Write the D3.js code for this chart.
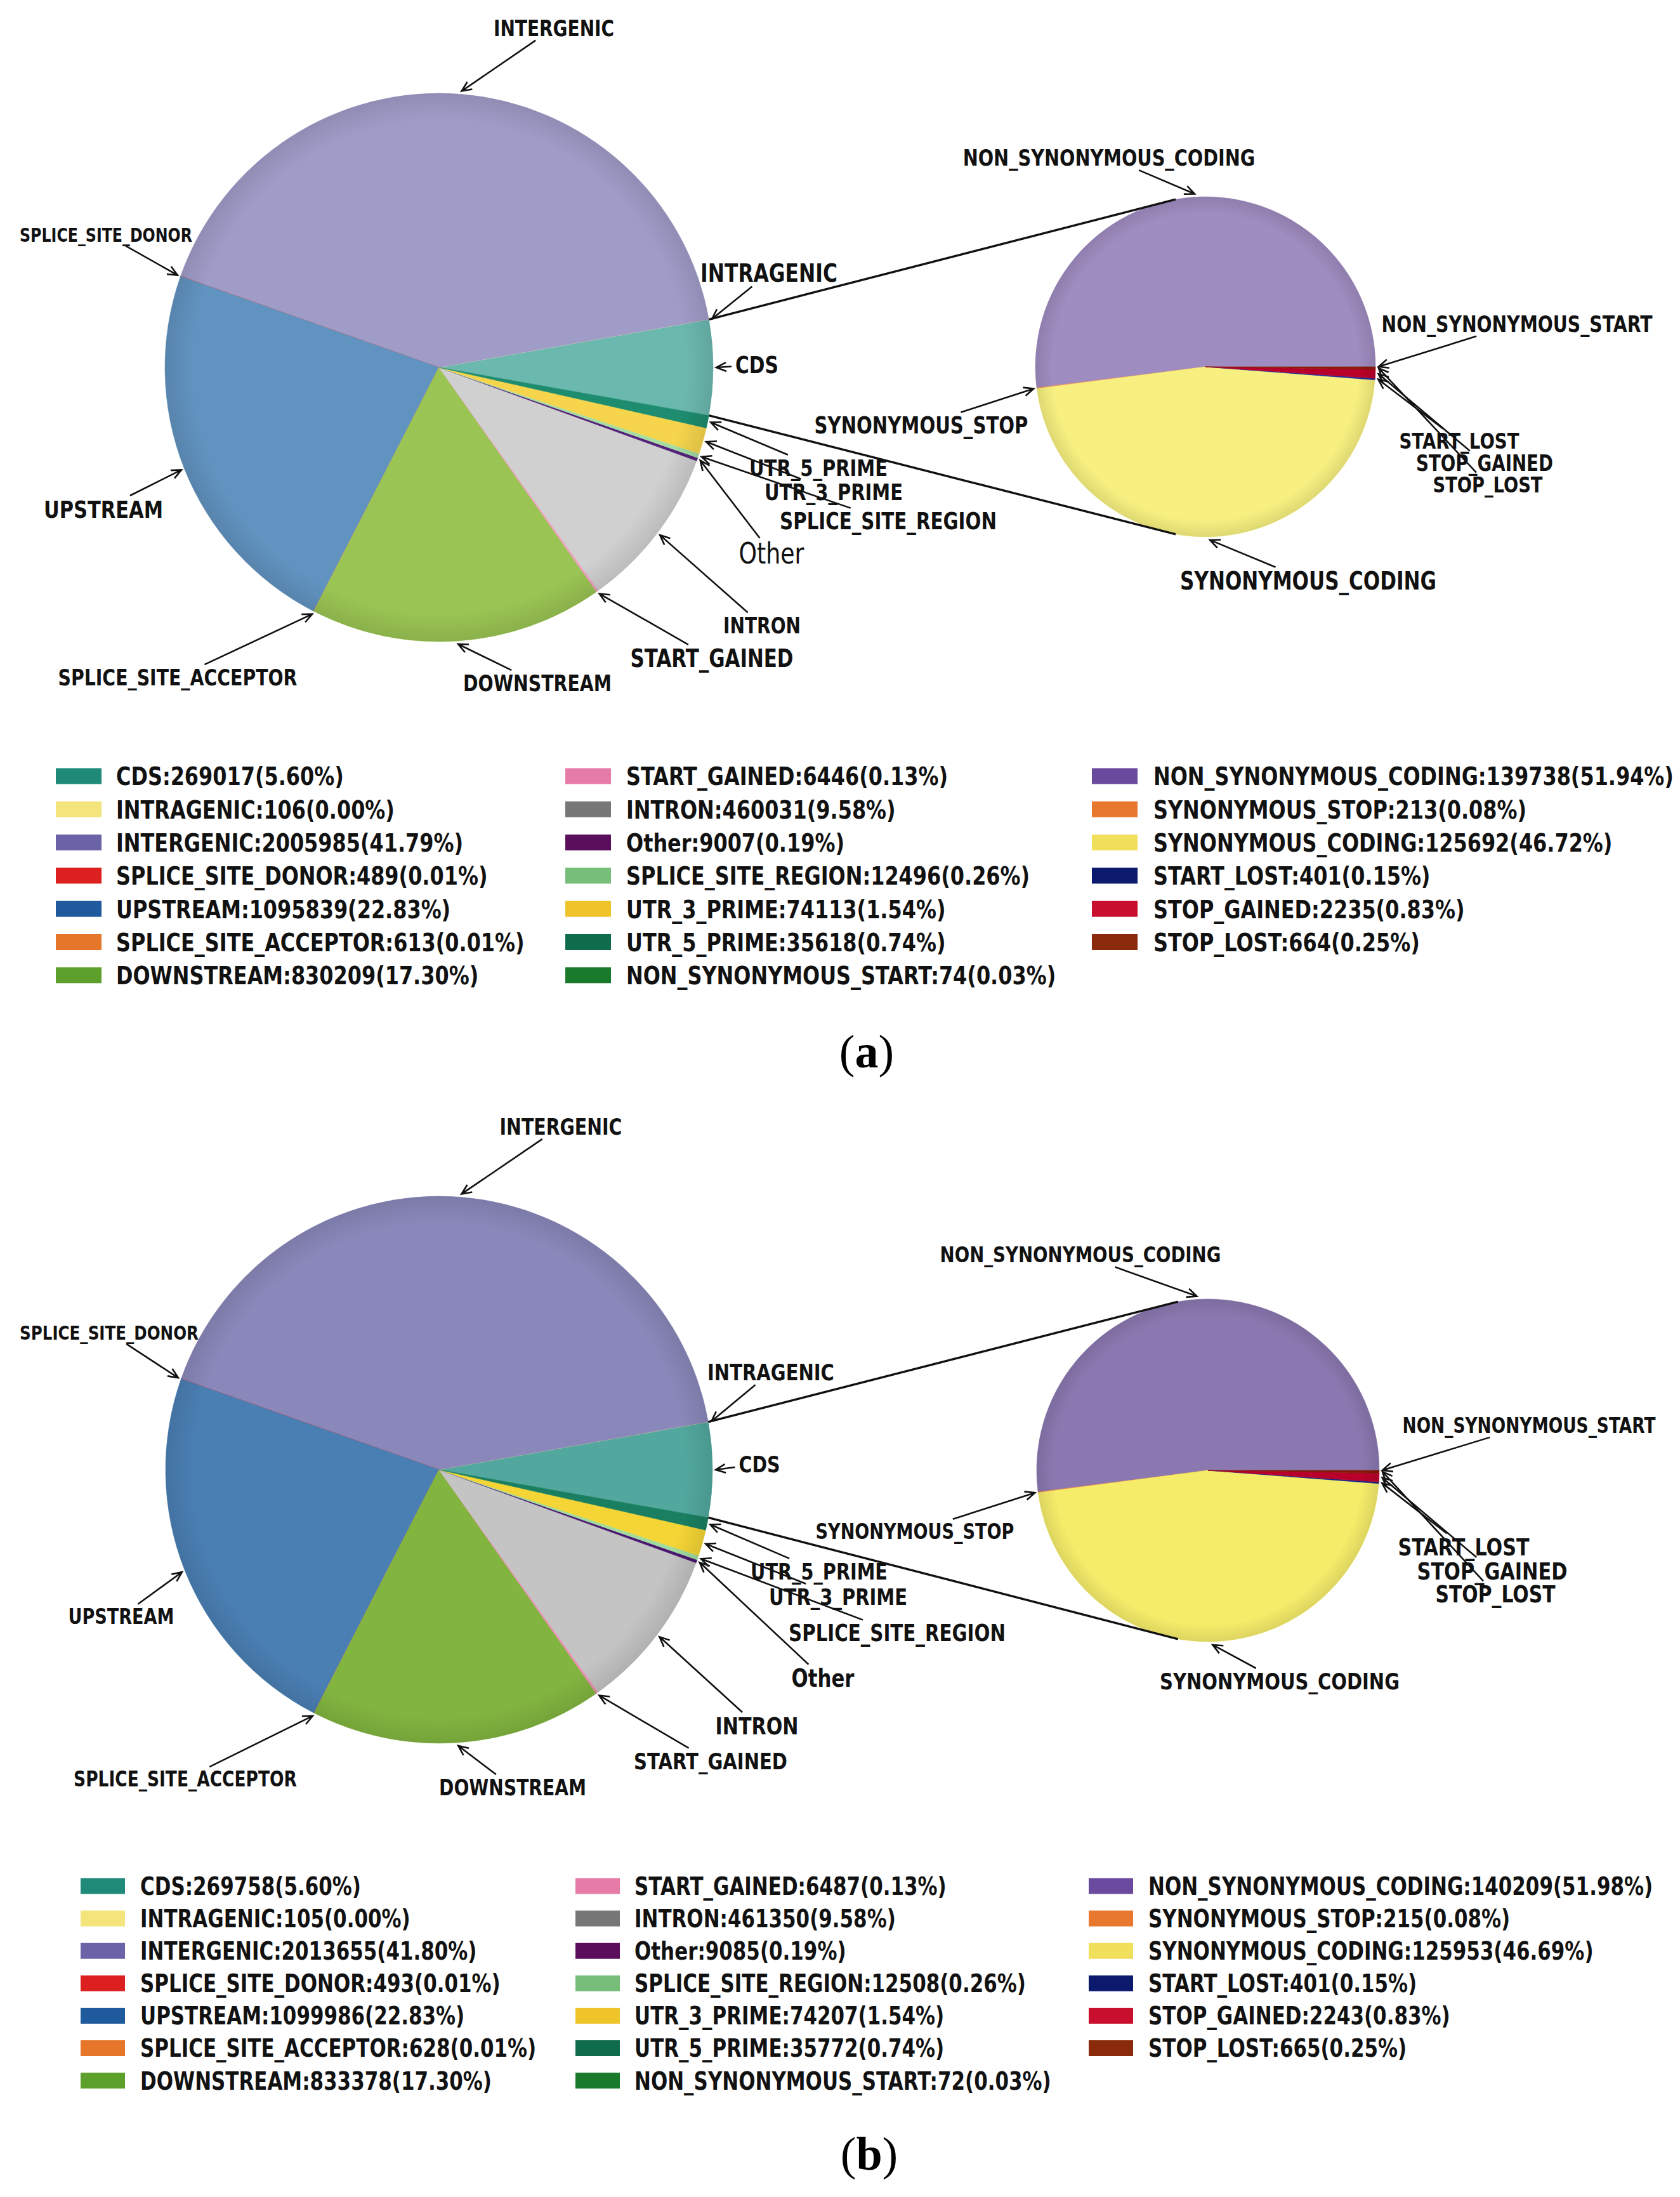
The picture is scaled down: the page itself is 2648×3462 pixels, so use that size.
<!DOCTYPE html>
<html>
<head>
<meta charset="utf-8">
<script src="https://cdn.jsdelivr.net/npm/d3@7"></script>
<style>
  body { margin: 0; background: #fff; }
  .lbl, .leg { font-family: "DejaVu Sans", sans-serif; fill: #111; }
  .cap { font-family: "Liberation Serif", "Times New Roman", serif; fill: #000; }
</style>
</head>
<body>
<svg id="chart" width="2648" height="3462"></svg>
<script>
// ---------------------------------------
// Data
// ---------------------------------------
const mainCategories = ["CDS", "INTRAGENIC", "INTERGENIC", "SPLICE_SITE_DONOR", "UPSTREAM",
    "SPLICE_SITE_ACCEPTOR", "DOWNSTREAM", "START_GAINED", "INTRON", "Other",
    "SPLICE_SITE_REGION", "UTR_3_PRIME", "UTR_5_PRIME"];
// breakdown of the CDS wedge
const cdsCategories = ["NON_SYNONYMOUS_START", "NON_SYNONYMOUS_CODING", "SYNONYMOUS_STOP",
    "SYNONYMOUS_CODING", "START_LOST", "STOP_GAINED", "STOP_LOST"];

const mainCountsA = [269017, 106, 2005985, 489, 1095839, 613, 830209, 6446, 460031, 9007, 12496, 74113, 35618];
const mainPctA    = ["5.60", "0.00", "41.79", "0.01", "22.83", "0.01", "17.30", "0.13", "9.58", "0.19", "0.26", "1.54", "0.74"];
const cdsCountsA  = [74, 139738, 213, 125692, 401, 2235, 664];
const cdsPctA     = ["0.03", "51.94", "0.08", "46.72", "0.15", "0.83", "0.25"];

const mainCountsB = [269758, 105, 2013655, 493, 1099986, 628, 833378, 6487, 461350, 9085, 12508, 74207, 35772];
const mainPctB    = ["5.60", "0.00", "41.80", "0.01", "22.83", "0.01", "17.30", "0.13", "9.58", "0.19", "0.26", "1.54", "0.74"];
const cdsCountsB  = [72, 140209, 215, 125953, 401, 2243, 665];
const cdsPctB     = ["0.03", "51.98", "0.08", "46.69", "0.15", "0.83", "0.25"];

// ---------------------------------------
// Colours (main categories then CDS categories)
// ---------------------------------------
const legendColors = ["#1f8a78", "#f3e47c", "#6b63a8", "#dc2020", "#1e5a9c", "#e6772a", "#5c9f2a",
    "#e57ba6", "#777777", "#5b0e5c", "#76be7a", "#efc42b", "#0e6b4b",
    "#197a2c", "#6a4a9e", "#e8782e", "#f0e05c", "#0c1a6e", "#c8102e", "#8b2a0a"];
const pieColorsA = ["#6bb8af", "#f6ec9e", "#a09cc8", "#e05050", "#6193c0", "#ee9050", "#9ac453",
    "#f0a0c0", "#d0d0d0", "#55207a", "#a5dda5", "#f6d54d", "#1e8c6e",
    "#2a8a3a", "#9f8cc0", "#f09050", "#f7f080", "#2030a0", "#b8002a", "#8e1a0a"];
const pieColorsB = ["#52a89e", "#f4e88a", "#8a88ba", "#dd3030", "#4a7fb3", "#ea8038", "#82b540",
    "#ee90b5", "#c4c4c4", "#4a1670", "#a0dca0", "#f5d535", "#1a7f60",
    "#228030", "#8b78b0", "#ee8840", "#f5ec6a", "#15258a", "#b8002a", "#861808"];

// ---------------------------------------
// Layout: label centre x, centre y, text width (px), weight
// ---------------------------------------
const labelsA = {
    "INTERGENIC": [873, 44, 190], "SPLICE_SITE_DONOR": [167, 370, 272], "INTRAGENIC": [1212, 430, 216],
    "CDS": [1193, 575, 68], "UPSTREAM": [163, 802, 188], "SPLICE_SITE_ACCEPTOR": [280, 1067, 377],
    "DOWNSTREAM": [847, 1076, 234], "START_GAINED": [1122, 1037, 257], "INTRON": [1201, 985, 122],
    "Other": [1216, 872, 103, "normal"], "SPLICE_SITE_REGION": [1400, 821, 342],
    "UTR_3_PRIME": [1314, 775, 218], "UTR_5_PRIME": [1290, 737, 218],
    "NON_SYNONYMOUS_START": [2391, 510, 427], "NON_SYNONYMOUS_CODING": [1748, 248, 461],
    "SYNONYMOUS_STOP": [1452, 670, 337], "SYNONYMOUS_CODING": [2062, 915, 404],
    "START_LOST": [2300, 695, 189], "STOP_GAINED": [2340, 730, 216], "STOP_LOST": [2345, 764, 173]
};
const labelsB = {
    "INTERGENIC": [884, 1775, 193], "SPLICE_SITE_DONOR": [172, 2100, 282], "INTRAGENIC": [1215, 2162, 200],
    "CDS": [1197, 2307, 65], "UPSTREAM": [191, 2547, 167], "SPLICE_SITE_ACCEPTOR": [292, 2803, 352],
    "DOWNSTREAM": [808, 2816, 232], "START_GAINED": [1120, 2775, 242], "INTRON": [1193, 2719, 131],
    "Other": [1297, 2644, 99], "SPLICE_SITE_REGION": [1414, 2573, 342],
    "UTR_3_PRIME": [1321, 2516, 218], "UTR_5_PRIME": [1291, 2476, 216],
    "NON_SYNONYMOUS_START": [2410, 2246, 399], "NON_SYNONYMOUS_CODING": [1703, 1977, 443],
    "SYNONYMOUS_STOP": [1442, 2413, 313], "SYNONYMOUS_CODING": [2017, 2649, 378],
    "START_LOST": [2307, 2437, 207], "STOP_GAINED": [2352, 2475, 237], "STOP_LOST": [2357, 2512, 189]
};

// the original text is squeezed horizontally
const CONDENSE = 0.8;

const panels = [
    { tag: "a", mainCounts: mainCountsA, mainPct: mainPctA, cdsCounts: cdsCountsA, cdsPct: cdsPctA,
      colors: pieColorsA, labels: labelsA, main: [692, 579, 432], sub: [1900, 578, 268],
      legend: { swatchX: [88, 891, 1721], textX: [183, 987, 1818], y0: 1223, dy: 52.3, sw: 72, sh: 25, width: 359 },
      caption: [1366, 1682] },
    { tag: "b", mainCounts: mainCountsB, mainPct: mainPctB, cdsCounts: cdsCountsB, cdsPct: cdsPctB,
      colors: pieColorsB, labels: labelsB, main: [692, 2316, 431], sub: [1904, 2317, 270],
      legend: { swatchX: [127, 907, 1716], textX: [221, 1000, 1810], y0: 2972, dy: 51.1, sw: 70, sh: 25, width: 348 },
      caption: [1370, 3419] }
];

const svg = d3.select("#chart");
svg.append("rect").attr("width", 2648).attr("height", 3462).attr("fill", "#fff");

// soft darkening toward the rim of each pie
const defs = svg.append("defs");
const rim = defs.append("radialGradient").attr("id", "rim");
rim.append("stop").attr("offset", "0.9").attr("stop-color", "#000").attr("stop-opacity", 0);
rim.append("stop").attr("offset", "1").attr("stop-color", "#000").attr("stop-opacity", 0.1);

const allCategories = mainCategories.concat(cdsCategories);

// point on the rim, d3 angle convention (0 = 12 o'clock, clockwise)
function rimPoint(cx, cy, r, a) {
    return [cx + r * Math.sin(a), cy - r * Math.cos(a)];
}

function arrowHead(g, from, to) {
    const ang = Math.atan2(to[1] - from[1], to[0] - from[0]);
    const L = 17, W = 0.42;
    const p1 = [to[0] - L * Math.cos(ang - W), to[1] - L * Math.sin(ang - W)];
    const p2 = [to[0] - L * Math.cos(ang + W), to[1] - L * Math.sin(ang + W)];
    g.append("path")
        .attr("d", "M" + from + "L" + to + "M" + p1 + "L" + to + "L" + p2)
        .attr("fill", "none")
        .attr("stroke", "#111")
        .attr("stroke-width", 2.6);
}

// condensed text: a group scaled in x holds the text at its origin
function squeezedText(g, str, x, y, anchor, weight, cls) {
    return g.append("g")
        .attr("transform", `translate(${x},${y}) scale(${CONDENSE},1)`)
        .append("text")
        .attr("class", cls)
        .attr("text-anchor", anchor)
        .attr("dy", "0.36em")
        .attr("font-weight", weight || "bold")
        .attr("font-size", 100)
        .text(str);
}

// label fitted to a measured width, centred on (x, y); returns its box
function fitText(g, str, x, y, width, weight) {
    const t = squeezedText(g, str, x, y, "middle", weight, "lbl");
    const len = t.node().getComputedTextLength();
    const fs = 100 * width / len / CONDENSE;
    t.attr("font-size", fs);
    return { x: x, y: y, hw: width / 2, hh: fs * 0.42 };
}

// clip the segment centre -> tip at the label box
function boxExit(box, tip) {
    const dx = tip[0] - box.x, dy = tip[1] - box.y;
    const hw = box.hw + 6, hh = box.hh + 5;
    const t = Math.min(Math.abs(dx) > 0 ? hw / Math.abs(dx) : 1e9, Math.abs(dy) > 0 ? hh / Math.abs(dy) : 1e9);
    return [box.x + dx * t, box.y + dy * t];
}

function drawPie(g, cats, counts, colors, colorOffset, center, start, labels) {
    const [cx, cy, r] = center;
    // counter-clockwise like the original figure
    const arcs = d3.pie().sort(null).value(d => d)
        .startAngle(start).endAngle(start - 2 * Math.PI)(counts);
    const arc = d3.arc().innerRadius(0).outerRadius(r);
    const pg = g.append("g").attr("transform", `translate(${cx},${cy})`);
    pg.selectAll("path")
        .data(arcs)
        .enter().append("path")
        .attr("d", arc)
        .attr("fill", (d, i) => colors[colorOffset + i])
        .attr("stroke", (d, i) => colors[colorOffset + i])
        .attr("stroke-width", 0.6);
    pg.append("circle").attr("r", r).attr("fill", "url(#rim)");

    arcs.forEach((d, i) => {
        const name = cats[i];
        const lay = labels[name];
        if (!lay) return;
        const mid = (d.startAngle + d.endAngle) / 2;
        const tip = rimPoint(cx, cy, r + 5, mid);
        const box = fitText(g, name, lay[0], lay[1], lay[2], lay[3]);
        arrowHead(g, boxExit(box, tip), tip);
    });
    return arcs;
}

panels.forEach(p => {
    const g = svg.append("g");
    const mainTotal = d3.sum(p.mainCounts);
    const cdsFrac = p.mainCounts[0] / mainTotal;
    const half = Math.PI * cdsFrac;

    // main pie: CDS wedge centred on the 3 o'clock direction
    drawPie(g, mainCategories, p.mainCounts, p.colors, 0, p.main, Math.PI / 2 + half, p.labels);
    // CDS breakdown pie starts at 3 o'clock
    drawPie(g, cdsCategories, p.cdsCounts, p.colors, mainCategories.length, p.sub, Math.PI / 2, p.labels);

    // connector lines from the CDS wedge edges to top and bottom of the second pie
    const [mx, my, mr] = p.main, [sx, sy, sr] = p.sub;
    [[Math.PI / 2 - half, -half], [Math.PI / 2 + half, Math.PI + half]].forEach(([a1, a2]) => {
        const from = rimPoint(mx, my, mr, a1);
        const to = rimPoint(sx, sy, sr, a2);
        g.append("line")
            .attr("x1", from[0]).attr("y1", from[1])
            .attr("x2", to[0]).attr("y2", to[1])
            .attr("stroke", "#111").attr("stroke-width", 3.4);
    });

    // legend: 3 columns of 7
    const counts = p.mainCounts.concat(p.cdsCounts);
    const pcts = p.mainPct.concat(p.cdsPct);
    const L = p.legend;
    const items = allCategories.map((c, i) => ({ name: c, text: c + ":" + counts[i] + "(" + pcts[i] + "%)", i: i }));
    const lg = g.append("g");
    let fs = null;
    items.forEach((d, k) => {
        const col = Math.floor(k / 7), row = k % 7;
        const y = L.y0 + row * L.dy;
        lg.append("rect")
            .attr("x", L.swatchX[col]).attr("y", y - L.sh / 2)
            .attr("width", L.sw).attr("height", L.sh)
            .attr("fill", legendColors[d.i]);
        const t = squeezedText(lg, d.text, L.textX[col], y, "start", "bold", "leg");
        if (fs === null) {
            fs = 100 * L.width / t.node().getComputedTextLength() / CONDENSE;
        }
        t.attr("font-size", fs);
    });

    // caption
    const cap = g.append("text").attr("class", "cap")
        .attr("x", p.caption[0]).attr("y", p.caption[1])
        .attr("text-anchor", "middle").attr("font-size", 74);
    cap.append("tspan").text("(");
    cap.append("tspan").attr("font-weight", "bold").text(p.tag);
    cap.append("tspan").text(")");
});
</script>
</body>
</html>
